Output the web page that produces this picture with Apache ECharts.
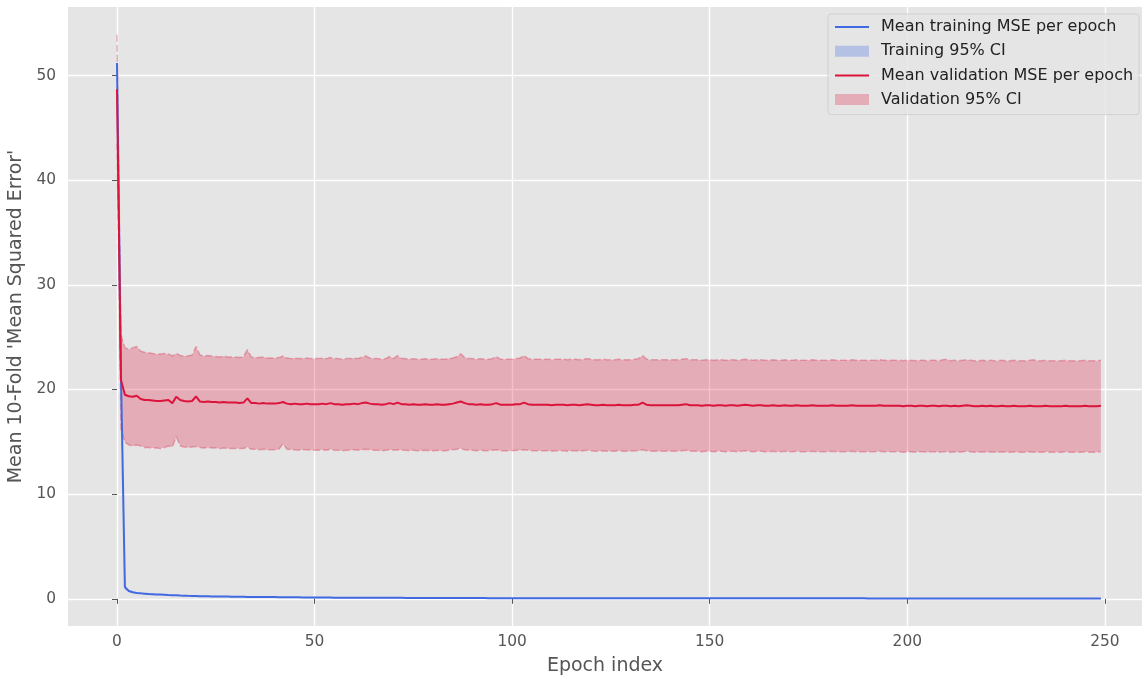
<!DOCTYPE html>
<html><head><meta charset="utf-8">
<script src="https://cdn.jsdelivr.net/npm/echarts@6/dist/echarts.min.js"></script>
<style>html,body{margin:0;padding:0;background:#fff}#c{width:1142px;height:678px}</style>
</head><body><div id="c"></div>
<script>
// ---- data ----
const xTicks = [0, 50, 100, 150, 200, 250];
const yTicks = [0, 10, 20, 30, 40, 50];

const trainMean = [
51.20,21.50,1.10,0.75,0.62,0.56,0.52,0.49,0.46,0.44,
0.42,0.40,0.38,0.36,0.35,0.33,0.31,0.30,0.28,0.27,
0.26,0.25,0.24,0.24,0.23,0.22,0.22,0.21,0.21,0.20,
0.20,0.19,0.19,0.18,0.18,0.17,0.17,0.17,0.16,0.16,
0.16,0.15,0.15,0.15,0.14,0.14,0.14,0.13,0.13,0.13,
0.13,0.12,0.12,0.12,0.12,0.11,0.11,0.11,0.11,0.11,
0.10,0.10,0.10,0.10,0.10,0.10,0.09,0.09,0.09,0.09,
0.09,0.09,0.09,0.08,0.08,0.08,0.08,0.08,0.08,0.08,
0.08,0.08,0.07,0.07,0.07,0.07,0.07,0.07,0.07,0.07,
0.07,0.07,0.07,0.07,0.06,0.06,0.06,0.06,0.06,0.06,
0.06,0.06,0.06,0.06,0.06,0.06,0.06,0.06,0.06,0.06,
0.06,0.06,0.06,0.06,0.06,0.05,0.05,0.05,0.05,0.05,
0.05,0.05,0.05,0.05,0.05,0.05,0.05,0.05,0.05,0.05,
0.05,0.05,0.05,0.05,0.05,0.05,0.05,0.05,0.05,0.05,
0.05,0.05,0.05,0.05,0.05,0.05,0.05,0.05,0.05,0.05,
0.04,0.04,0.04,0.04,0.04,0.04,0.04,0.04,0.04,0.04,
0.04,0.04,0.04,0.04,0.04,0.04,0.04,0.04,0.04,0.04,
0.04,0.04,0.04,0.04,0.04,0.04,0.04,0.04,0.04,0.04,
0.04,0.04,0.04,0.04,0.04,0.04,0.04,0.04,0.04,0.04,
0.03,0.03,0.03,0.03,0.03,0.03,0.03,0.03,0.03,0.03,
0.03,0.03,0.03,0.03,0.03,0.03,0.03,0.03,0.03,0.03,
0.03,0.03,0.03,0.03,0.03,0.03,0.03,0.03,0.03,0.03,
0.03,0.03,0.03,0.03,0.03,0.03,0.03,0.03,0.03,0.03,
0.03,0.03,0.03,0.03,0.03,0.03,0.03,0.03,0.03,0.03,
0.03,0.03,0.03,0.03,0.03,0.03,0.03,0.03,0.03,0.03
];
const trainLow = [
49.80,20.50,0.88,0.65,0.55,0.50,0.47,0.44,0.41,0.40,
0.38,0.36,0.34,0.32,0.31,0.29,0.27,0.26,0.24,0.23,
0.22,0.21,0.21,0.21,0.20,0.19,0.19,0.18,0.18,0.17,
0.17,0.16,0.16,0.15,0.15,0.14,0.14,0.14,0.13,0.13,
0.13,0.12,0.12,0.12,0.11,0.11,0.11,0.10,0.10,0.10,
0.10,0.10,0.10,0.10,0.10,0.09,0.09,0.09,0.09,0.09,
0.08,0.08,0.08,0.08,0.08,0.08,0.07,0.07,0.07,0.07,
0.07,0.07,0.07,0.06,0.06,0.06,0.06,0.06,0.06,0.06,
0.06,0.06,0.05,0.05,0.05,0.05,0.05,0.05,0.05,0.05,
0.05,0.05,0.05,0.05,0.05,0.05,0.05,0.05,0.05,0.05,
0.05,0.05,0.05,0.05,0.05,0.05,0.05,0.05,0.05,0.05,
0.05,0.05,0.05,0.05,0.05,0.04,0.04,0.04,0.04,0.04,
0.04,0.04,0.04,0.04,0.04,0.04,0.04,0.04,0.04,0.04,
0.04,0.04,0.04,0.04,0.04,0.04,0.04,0.04,0.04,0.04,
0.04,0.04,0.04,0.04,0.04,0.04,0.04,0.04,0.04,0.04,
0.03,0.03,0.03,0.03,0.03,0.03,0.03,0.03,0.03,0.03,
0.03,0.03,0.03,0.03,0.03,0.03,0.03,0.03,0.03,0.03,
0.03,0.03,0.03,0.03,0.03,0.03,0.03,0.03,0.03,0.03,
0.03,0.03,0.03,0.03,0.03,0.03,0.03,0.03,0.03,0.03,
0.02,0.02,0.02,0.02,0.02,0.02,0.02,0.02,0.02,0.02,
0.02,0.02,0.02,0.02,0.02,0.02,0.02,0.02,0.02,0.02,
0.02,0.02,0.02,0.02,0.02,0.02,0.02,0.02,0.02,0.02,
0.02,0.02,0.02,0.02,0.02,0.02,0.02,0.02,0.02,0.02,
0.02,0.02,0.02,0.02,0.02,0.02,0.02,0.02,0.02,0.02,
0.02,0.02,0.02,0.02,0.02,0.02,0.02,0.02,0.02,0.02
];
const trainHigh = [
52.60,22.50,1.32,0.85,0.69,0.62,0.57,0.54,0.51,0.48,
0.46,0.44,0.42,0.40,0.39,0.37,0.35,0.34,0.32,0.31,
0.30,0.29,0.27,0.27,0.26,0.25,0.25,0.24,0.24,0.23,
0.23,0.22,0.22,0.21,0.21,0.20,0.20,0.20,0.19,0.19,
0.19,0.18,0.18,0.18,0.17,0.17,0.17,0.16,0.16,0.16,
0.16,0.14,0.14,0.14,0.14,0.13,0.13,0.13,0.13,0.13,
0.12,0.12,0.12,0.12,0.12,0.12,0.11,0.11,0.11,0.11,
0.11,0.11,0.11,0.10,0.10,0.10,0.10,0.10,0.10,0.10,
0.10,0.10,0.09,0.09,0.09,0.09,0.09,0.09,0.09,0.09,
0.09,0.09,0.09,0.09,0.08,0.08,0.08,0.08,0.08,0.08,
0.08,0.08,0.08,0.08,0.08,0.08,0.08,0.08,0.08,0.08,
0.08,0.08,0.08,0.08,0.08,0.07,0.07,0.07,0.07,0.07,
0.07,0.07,0.07,0.07,0.07,0.07,0.07,0.07,0.07,0.07,
0.07,0.07,0.07,0.07,0.07,0.07,0.07,0.07,0.07,0.07,
0.07,0.07,0.07,0.07,0.07,0.07,0.07,0.07,0.07,0.07,
0.06,0.06,0.06,0.06,0.06,0.06,0.06,0.06,0.06,0.06,
0.06,0.06,0.06,0.06,0.06,0.06,0.06,0.06,0.06,0.06,
0.06,0.06,0.06,0.06,0.06,0.06,0.06,0.06,0.06,0.06,
0.06,0.06,0.06,0.06,0.06,0.06,0.06,0.06,0.06,0.06,
0.05,0.05,0.05,0.05,0.05,0.05,0.05,0.05,0.05,0.05,
0.05,0.05,0.05,0.05,0.05,0.05,0.05,0.05,0.05,0.05,
0.05,0.05,0.05,0.05,0.05,0.05,0.05,0.05,0.05,0.05,
0.05,0.05,0.05,0.05,0.05,0.05,0.05,0.05,0.05,0.05,
0.05,0.05,0.05,0.05,0.05,0.05,0.05,0.05,0.05,0.05,
0.05,0.05,0.05,0.05,0.05,0.05,0.05,0.05,0.05,0.05
];

const valMean = [
48.70,20.90,19.50,19.35,19.30,19.40,19.10,19.00,19.00,18.95,
18.90,18.90,18.95,19.00,18.70,19.30,19.00,18.90,18.85,18.90,
19.35,18.85,18.80,18.85,18.80,18.80,18.75,18.80,18.75,18.75,
18.75,18.70,18.75,19.15,18.70,18.70,18.65,18.70,18.65,18.65,
18.65,18.70,18.80,18.65,18.60,18.65,18.60,18.60,18.65,18.60,
18.60,18.60,18.65,18.60,18.70,18.60,18.60,18.55,18.60,18.60,
18.65,18.60,18.70,18.75,18.65,18.60,18.60,18.55,18.60,18.70,
18.60,18.75,18.60,18.60,18.55,18.60,18.55,18.55,18.60,18.55,
18.55,18.60,18.55,18.55,18.60,18.65,18.75,18.85,18.70,18.60,
18.60,18.55,18.60,18.55,18.55,18.60,18.70,18.55,18.55,18.55,
18.55,18.60,18.60,18.75,18.60,18.55,18.55,18.55,18.55,18.55,
18.50,18.55,18.55,18.55,18.50,18.55,18.55,18.50,18.55,18.60,
18.55,18.50,18.50,18.55,18.50,18.50,18.50,18.55,18.50,18.50,
18.50,18.55,18.55,18.75,18.55,18.50,18.50,18.50,18.50,18.50,
18.50,18.50,18.50,18.55,18.60,18.50,18.50,18.50,18.45,18.50,
18.50,18.45,18.50,18.50,18.45,18.50,18.50,18.45,18.50,18.55,
18.50,18.45,18.50,18.50,18.45,18.45,18.50,18.45,18.45,18.50,
18.45,18.45,18.50,18.45,18.45,18.45,18.50,18.45,18.45,18.45,
18.45,18.50,18.45,18.45,18.45,18.45,18.50,18.45,18.45,18.45,
18.45,18.45,18.45,18.50,18.45,18.45,18.45,18.45,18.45,18.40,
18.45,18.45,18.40,18.45,18.45,18.40,18.45,18.45,18.40,18.45,
18.45,18.40,18.45,18.40,18.45,18.50,18.45,18.40,18.40,18.45,
18.40,18.45,18.40,18.40,18.45,18.40,18.40,18.45,18.40,18.40,
18.40,18.45,18.40,18.40,18.40,18.45,18.40,18.40,18.40,18.40,
18.45,18.40,18.40,18.40,18.40,18.45,18.40,18.40,18.40,18.45
];
const valHigh = [
53.90,25.20,24.00,23.85,24.00,24.10,23.65,23.55,23.50,23.45,
23.40,23.40,23.45,23.40,23.20,23.45,23.25,23.20,23.20,23.30,
24.10,23.30,23.20,23.25,23.20,23.15,23.10,23.20,23.10,23.10,
23.10,23.05,23.15,23.80,23.10,23.05,23.05,23.10,23.00,23.00,
23.00,23.05,23.20,23.00,22.95,23.00,22.95,22.95,23.00,22.95,
22.95,22.95,23.00,22.95,23.05,22.95,22.95,22.90,22.95,22.95,
23.00,22.95,23.10,23.20,23.00,22.95,22.95,22.90,22.95,23.15,
22.95,23.25,22.95,22.95,22.90,22.95,22.90,22.90,22.95,22.90,
22.90,22.95,22.90,22.90,22.95,23.00,23.15,23.40,23.05,22.95,
22.95,22.90,22.95,22.90,22.90,22.95,23.15,22.90,22.90,22.90,
22.90,22.95,23.00,23.25,22.95,22.90,22.90,22.90,22.90,22.90,
22.85,22.90,22.90,22.90,22.85,22.90,22.90,22.85,22.90,22.95,
22.90,22.85,22.85,22.90,22.85,22.85,22.85,22.90,22.85,22.85,
22.85,22.90,22.95,23.25,22.90,22.85,22.85,22.85,22.85,22.85,
22.85,22.85,22.85,22.90,22.95,22.85,22.85,22.85,22.80,22.85,
22.85,22.80,22.85,22.85,22.80,22.85,22.85,22.80,22.85,22.90,
22.85,22.80,22.85,22.85,22.80,22.80,22.85,22.80,22.80,22.85,
22.80,22.80,22.85,22.80,22.80,22.80,22.85,22.80,22.80,22.80,
22.80,22.85,22.80,22.80,22.80,22.80,22.85,22.80,22.80,22.80,
22.80,22.80,22.80,22.85,22.80,22.80,22.80,22.80,22.80,22.75,
22.80,22.80,22.75,22.80,22.80,22.75,22.80,22.80,22.75,22.85,
22.90,22.75,22.80,22.75,22.80,22.85,22.80,22.75,22.75,22.80,
22.75,22.80,22.75,22.75,22.80,22.75,22.75,22.80,22.75,22.75,
22.75,22.80,22.85,22.75,22.75,22.80,22.75,22.75,22.75,22.75,
22.80,22.75,22.75,22.75,22.75,22.80,22.75,22.75,22.75,22.80
];
const valLow = [
43.50,16.20,14.95,14.70,14.60,14.70,14.60,14.45,14.45,14.40,
14.40,14.35,14.45,14.60,14.50,15.50,14.60,14.50,14.45,14.50,
14.55,14.45,14.40,14.45,14.40,14.40,14.35,14.40,14.35,14.35,
14.35,14.35,14.35,14.50,14.30,14.30,14.25,14.30,14.25,14.25,
14.25,14.30,14.80,14.30,14.25,14.25,14.20,14.25,14.25,14.20,
14.20,14.20,14.25,14.20,14.30,14.20,14.20,14.15,14.20,14.20,
14.25,14.20,14.25,14.30,14.25,14.20,14.20,14.15,14.20,14.25,
14.20,14.25,14.20,14.20,14.15,14.20,14.15,14.15,14.20,14.15,
14.15,14.20,14.15,14.15,14.20,14.25,14.30,14.35,14.25,14.20,
14.20,14.15,14.20,14.15,14.15,14.20,14.25,14.15,14.15,14.15,
14.15,14.20,14.20,14.25,14.20,14.15,14.15,14.15,14.15,14.15,
14.10,14.15,14.15,14.15,14.10,14.15,14.15,14.10,14.15,14.20,
14.15,14.10,14.10,14.15,14.10,14.10,14.10,14.15,14.10,14.10,
14.10,14.15,14.15,14.25,14.15,14.10,14.10,14.10,14.10,14.10,
14.10,14.10,14.10,14.15,14.20,14.10,14.10,14.10,14.05,14.10,
14.10,14.05,14.10,14.10,14.05,14.10,14.10,14.05,14.10,14.15,
14.10,14.05,14.10,14.10,14.05,14.05,14.10,14.05,14.05,14.10,
14.05,14.05,14.10,14.05,14.05,14.05,14.10,14.05,14.05,14.05,
14.05,14.10,14.05,14.05,14.05,14.05,14.10,14.05,14.05,14.05,
14.05,14.05,14.05,14.10,14.05,14.05,14.05,14.05,14.05,14.00,
14.05,14.05,14.00,14.05,14.05,14.00,14.05,14.05,14.00,14.05,
14.05,14.00,14.05,14.00,14.05,14.10,14.05,14.00,14.00,14.05,
14.00,14.05,14.00,14.00,14.05,14.00,14.00,14.05,14.00,14.00,
14.00,14.05,14.00,14.00,14.00,14.05,14.00,14.00,14.00,14.00,
14.05,14.00,14.00,14.00,14.00,14.05,14.00,14.00,14.00,14.05
];

// ---- build series data ----
const epochs = trainMean.map((_, i) => i);
const pairs = arr => arr.map((v, i) => [epochs[i], v]);

const FONT = 'DejaVu Sans';
const BLUE = '#4169E1', RED = '#DC143C';
const BLUE_FILL = 'rgba(65,105,225,0.3)';
const RED_FILL = 'rgba(220,20,60,0.27)';
const RED_EDGE = 'rgba(220,20,60,0.3)';
const LINE_ICON = 'path://M0,0L34,0L34,2L0,2Z';

function bandSeries(name, lo, hi, fill, z) {
  return {
    name, type: 'custom', z, silent: true, clip: true,
    itemStyle: {color: fill},
    data: [[epochs[0], lo[0]]],
    encode: {x: 0, y: 1},
    renderItem: (params, api) => {
      const pts = [];
      for (let i = 0; i < epochs.length; i++) pts.push(api.coord([epochs[i], hi[i]]));
      for (let i = epochs.length - 1; i >= 0; i--) pts.push(api.coord([epochs[i], lo[i]]));
      return {type: 'polygon', shape: {points: pts}, style: {fill, stroke: null}};
    }
  };
}

const chart = echarts.init(document.getElementById('c'), null, {renderer: 'canvas'});
chart.setOption({
  animation: false,
  backgroundColor: '#ffffff',
  textStyle: {fontFamily: FONT},
  grid: {left: 68, right: 0, top: 7, bottom: 52, show: true, backgroundColor: '#E5E5E5', borderWidth: 0,
         containLabel: false, outerBoundsMode: 'none'},
  legend: {
    orient: 'vertical', left: 828, top: 14,
    padding: [5, 6, 7, 7],
    itemWidth: 34, itemHeight: 11, itemGap: 8.2,
    backgroundColor: 'rgba(229,229,229,0.8)', borderColor: 'rgba(204,204,204,0.8)', borderWidth: 1, borderRadius: 3,
    textStyle: {fontFamily: FONT, fontSize: 16, color: '#222', padding: [0, 0, 0, 7], lineHeight: 16},
    data: [
      {name: 'Mean training MSE per epoch', icon: LINE_ICON, itemStyle: {color: BLUE, borderWidth: 0}},
      {name: 'Training 95% CI', icon: 'rect', itemStyle: {color: BLUE_FILL, borderWidth: 0}},
      {name: 'Mean validation MSE per epoch', icon: LINE_ICON, itemStyle: {color: RED, borderWidth: 0}},
      {name: 'Validation 95% CI', icon: 'rect', itemStyle: {color: RED_FILL, borderWidth: 0}}
    ]
  },
  xAxis: {
    type: 'value', min: -12.4, max: 259.4,
    name: 'Epoch index', nameLocation: 'middle', nameGap: 31,
    nameTextStyle: {fontFamily: FONT, fontSize: 19, color: '#555555'},
    axisLine: {show: false},
    axisTick: {show: true, customValues: xTicks, length: 5, lineStyle: {color: '#555555', width: 1}},
    axisLabel: {customValues: xTicks, margin: 8, fontFamily: FONT, fontSize: 15.4, color: '#555555'},
    splitLine: {show: true, lineStyle: {color: '#ffffff', width: 1.4}}
  },
  yAxis: {
    type: 'value', min: -2.6, max: 56.55,
    name: "Mean 10-Fold 'Mean Squared Error'", nameLocation: 'middle', nameGap: 40,
    nameTextStyle: {fontFamily: FONT, fontSize: 19, color: '#555555'},
    axisLine: {show: false},
    axisTick: {show: true, customValues: yTicks, length: 5, lineStyle: {color: '#555555', width: 1}},
    axisLabel: {customValues: yTicks, margin: 12, fontFamily: FONT, fontSize: 15.4, color: '#555555'},
    splitLine: {show: true, lineStyle: {color: '#ffffff', width: 1.4}}
  },
  series: [
    bandSeries('Training 95% CI', trainLow, trainHigh, BLUE_FILL, 1),
    bandSeries('Validation 95% CI', valLow, valHigh, RED_FILL, 2),
    {name: '_valLowEdge', type: 'line', symbol: 'none', showSymbol: false, data: pairs(valLow), silent: true, z: 2,
     lineStyle: {width: 1.5, type: [7, 3], color: RED_EDGE}},
    {name: '_valHighEdge', type: 'line', symbol: 'none', showSymbol: false, data: pairs(valHigh), silent: true, z: 2,
     lineStyle: {width: 1.5, type: [7, 3], color: RED_EDGE}},
    {name: 'Mean training MSE per epoch', type: 'line', symbol: 'none', showSymbol: false, data: pairs(trainMean),
     lineStyle: {width: 2, color: BLUE}, itemStyle: {color: BLUE}, z: 3},
    {name: 'Mean validation MSE per epoch', type: 'line', symbol: 'none', showSymbol: false, data: pairs(valMean),
     lineStyle: {width: 2, color: RED}, itemStyle: {color: RED}, z: 4}
  ]
});
</script></body></html>
